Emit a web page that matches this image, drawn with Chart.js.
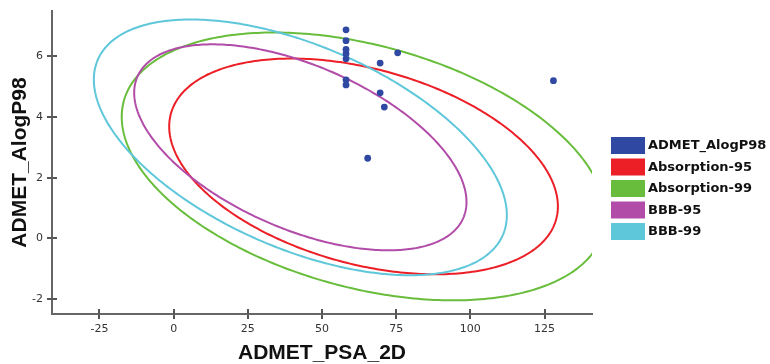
<!DOCTYPE html>
<html>
<head>
<meta charset="utf-8">
<script src="https://cdn.jsdelivr.net/npm/chart.js@4.4.1/dist/chart.umd.min.js"></script>
<style>
    html, body { margin: 0; padding: 0; background: #fff; }
</style>
</head>
<body>
<canvas id="admet_plot" width="770" height="364"></canvas>
<script>
// compounds (ADMET_PSA_2D vs ADMET_AlogP98)
const psaValues = [58.1, 58.1, 58.1, 58.1, 58.1, 58.1, 58.1, 75.5, 69.6, 69.6, 71.0, 65.4, 128.0];
const alogpValues = [6.88, 6.52, 6.23, 6.09, 5.92, 5.23, 5.06, 6.12, 5.78, 4.80, 4.33, 2.64, 5.20];

// confidence ellipses: centre, half width (PSA), half height (AlogP), y-coupling
const ellipseNames = ['Absorption-95', 'Absorption-99', 'BBB-95', 'BBB-99'];
const ellipseCx = [64.0, 64.0, 42.7, 42.7];
const ellipseCy = [2.37, 2.37, 3.0, 3.0];
const ellipseRx = [65.5, 81.5, 56.0, 69.6];
const ellipseRy = [3.56, 4.42, 3.40, 4.22];
const ellipseTilt = [-0.37, -0.37, -0.53, -0.53];

const xTicks = [-25, 0, 25, 50, 75, 100, 125];
const yTicks = [-2, 0, 2, 4, 6];

const pointColor = '#2f49a3';
const ellipseColors = ['#ec1f27', '#69bd3c', '#b24ca9', '#5fc7da'];

Chart.defaults.font.family = '"DejaVu Sans", sans-serif';

const admetOverlay = {
    id: 'admetOverlay',
    beforeDatasetsDraw(chart) {
        const {ctx, chartArea, scales} = chart;
        ctx.save();
        ctx.beginPath();
        ctx.rect(chartArea.left, chartArea.top, chartArea.right - chartArea.left, chartArea.bottom - chartArea.top);
        ctx.clip();
        ellipseNames.forEach(function (name, i) {
            const d = Math.acos(ellipseTilt[i]);
            ctx.beginPath();
            for (let k = 0; k <= 360; k++) {
                const t = k * Math.PI / 180;
                const px = scales.x.getPixelForValue(ellipseCx[i] + ellipseRx[i] * Math.cos(t));
                const py = scales.y.getPixelForValue(ellipseCy[i] + ellipseRy[i] * Math.cos(t - d));
                if (k === 0) ctx.moveTo(px, py); else ctx.lineTo(px, py);
            }
            ctx.closePath();
            ctx.strokeStyle = ellipseColors[i];
            ctx.lineWidth = 2;
            ctx.stroke();
        });
        ctx.restore();
    },
    afterDraw(chart) {
        const {ctx, chartArea, scales} = chart;
        ctx.save();
        // tick marks also cross into the plot
        ctx.strokeStyle = '#555';
        ctx.lineWidth = 2;
        ctx.beginPath();
        xTicks.forEach(function (v) {
            const px = Math.round(scales.x.getPixelForValue(v));
            ctx.moveTo(px, chartArea.bottom);
            ctx.lineTo(px, chartArea.bottom - 5);
        });
        yTicks.forEach(function (v) {
            const py = Math.round(scales.y.getPixelForValue(v));
            ctx.moveTo(chartArea.left, py);
            ctx.lineTo(chartArea.left + 5, py);
        });
        ctx.stroke();

        // legend
        const names = [chart.data.datasets[0].label].concat(ellipseNames);
        const colors = [pointColor].concat(ellipseColors);
        const left = chartArea.right + 19;
        ctx.font = 'bold 13px "DejaVu Sans"';
        ctx.textBaseline = 'middle';
        ctx.textAlign = 'left';
        names.forEach(function (name, i) {
            const top = 137 + i * 21.5;
            ctx.fillStyle = colors[i];
            ctx.fillRect(left, top, 34, 17);
            ctx.fillStyle = '#111';
            ctx.fillText(name, left + 37, top + 9);
        });
        ctx.restore();
    }
};

new Chart(document.getElementById('admet_plot'), {
    type: 'scatter',
    data: {
        datasets: [{
            label: 'ADMET_AlogP98',
            data: psaValues.map(function (v, i) {
                return {x: v, y: alogpValues[i]};
            }),
            backgroundColor: pointColor,
            borderWidth: 0,
            pointRadius: 3.4
        }]
    },
    options: {
        responsive: false,
        animation: false,
        layout: {
            padding: {top: 11, right: 178, bottom: 0, left: 0}
        },
        plugins: {
            legend: {display: false},
            tooltip: {enabled: false}
        },
        scales: {
            x: {
                type: 'linear',
                min: -41,
                max: 141,
                afterBuildTicks: function (scale) {
                    scale.ticks = xTicks.map(function (v) { return {value: v}; });
                },
                afterFit: function (scale) {
                    scale.height = 50;
                },
                border: {color: '#666', width: 2},
                grid: {drawOnChartArea: false, color: '#555', lineWidth: 2, tickLength: 5},
                ticks: {color: '#333', font: {size: 11}, padding: 4, maxRotation: 0},
                title: {
                    display: true,
                    text: 'ADMET_PSA_2D',
                    color: '#111',
                    font: {family: '"Liberation Sans", Arial, sans-serif', size: 21, weight: 'bold', lineHeight: 1},
                    padding: {top: 0, bottom: 0}
                }
            },
            y: {
                type: 'linear',
                min: -2.5,
                max: 7.5,
                afterBuildTicks: function (scale) {
                    scale.ticks = yTicks.map(function (v) { return {value: v}; });
                },
                afterFit: function (scale) {
                    scale.width = 52;
                },
                border: {color: '#666', width: 2},
                grid: {drawOnChartArea: false, color: '#555', lineWidth: 2, tickLength: 5},
                ticks: {color: '#333', font: {size: 11}, padding: 4},
                title: {
                    display: true,
                    text: 'ADMET_AlogP98',
                    color: '#111',
                    font: {family: '"Liberation Sans", Arial, sans-serif', size: 21, weight: 'bold', lineHeight: 1},
                    padding: {top: 10, bottom: 0}
                }
            }
        }
    },
    plugins: [admetOverlay]
});
</script>
</body>
</html>
